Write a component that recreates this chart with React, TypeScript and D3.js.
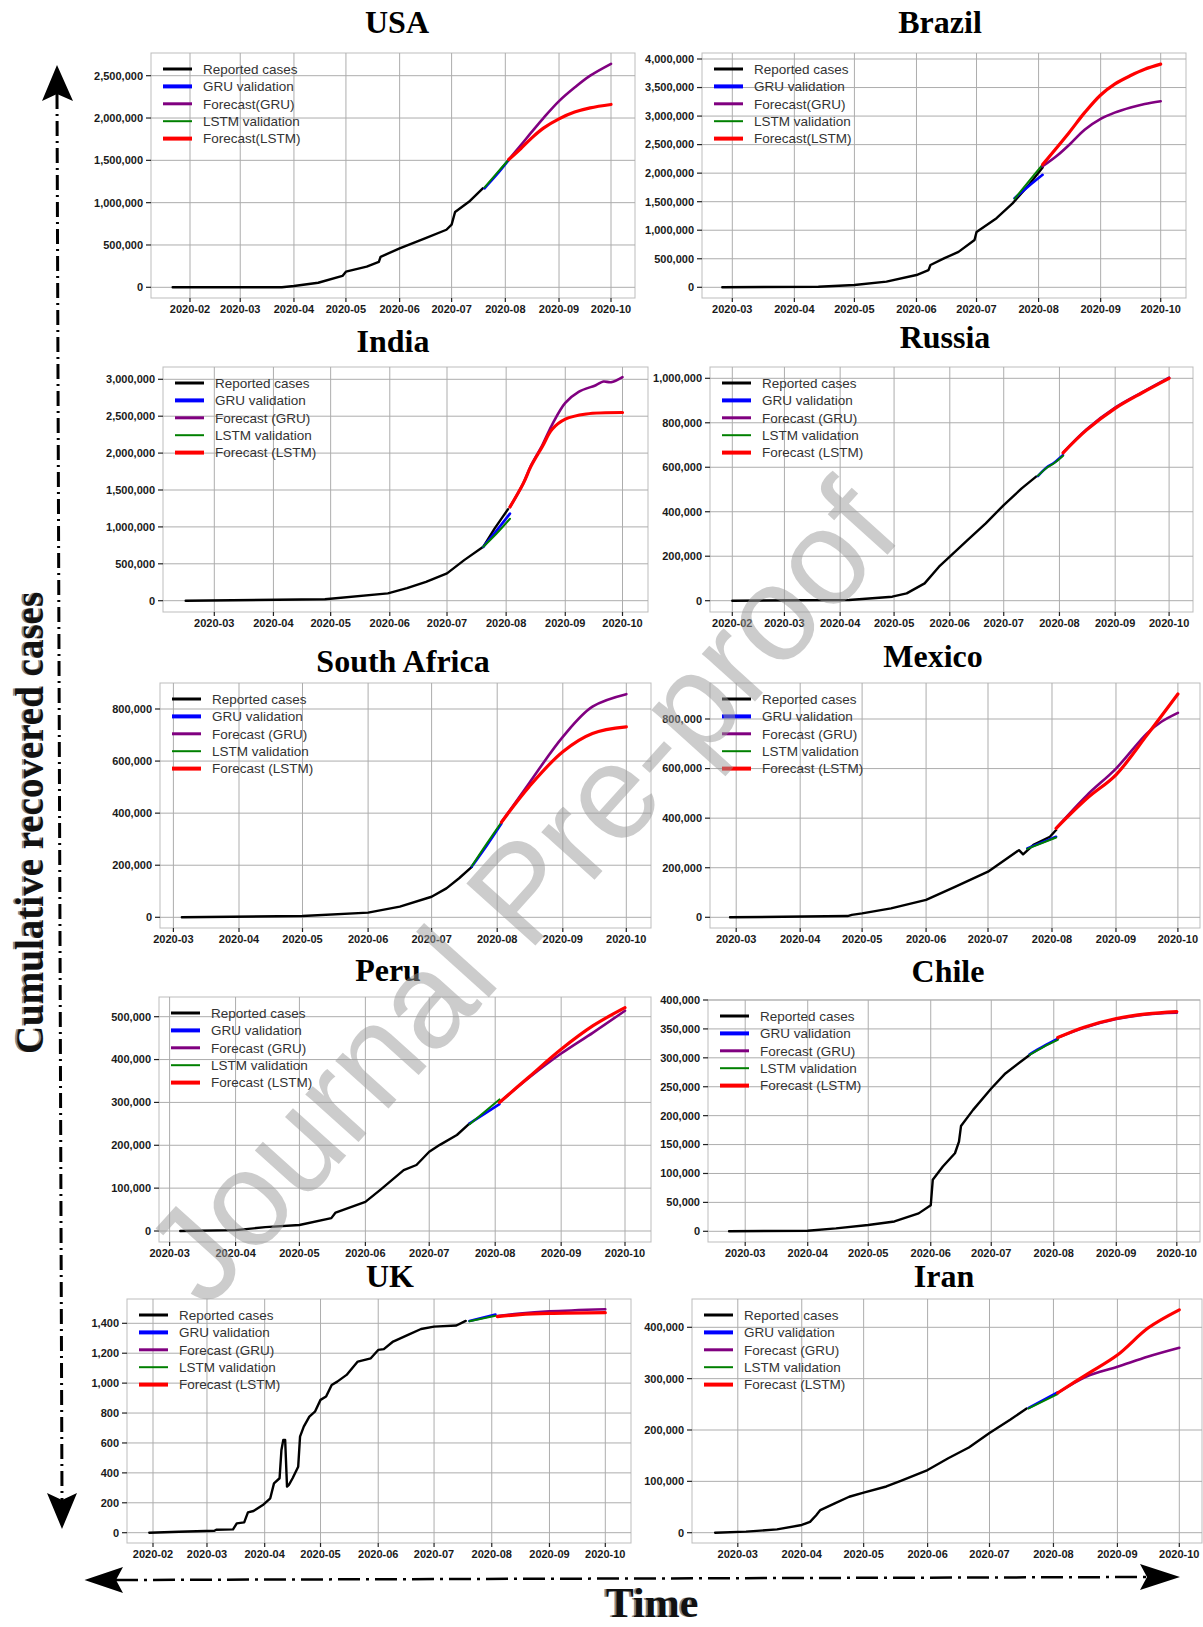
import React from "react";
import * as d3 from "d3";

type Pt = [string, number];

// x tick labels (months)
const monthsFromFeb = ["2020-02", "2020-03", "2020-04", "2020-05", "2020-06", "2020-07", "2020-08", "2020-09", "2020-10"];
const monthsFromMar = ["2020-03", "2020-04", "2020-05", "2020-06", "2020-07", "2020-08", "2020-09", "2020-10"];

// y tick values
const usaYTicks = [0, 500000, 1000000, 1500000, 2000000, 2500000];
const brazilYTicks = [0, 500000, 1000000, 1500000, 2000000, 2500000, 3000000, 3500000, 4000000];
const indiaYTicks = [0, 500000, 1000000, 1500000, 2000000, 2500000, 3000000];
const russiaYTicks = [0, 200000, 400000, 600000, 800000, 1000000];
const saYTicks = [0, 200000, 400000, 600000, 800000];
const mexicoYTicks = [0, 200000, 400000, 600000, 800000];
const peruYTicks = [0, 100000, 200000, 300000, 400000, 500000];
const chileYTicks = [0, 50000, 100000, 150000, 200000, 250000, 300000, 350000, 400000];
const ukYTicks = [0, 200, 400, 600, 800, 1000, 1200, 1400];
const iranYTicks = [0, 100000, 200000, 300000, 400000];

// legend labels
const legendCompact = ["Reported cases", "GRU validation", "Forecast(GRU)", "LSTM validation", "Forecast(LSTM)"];
const legendSpaced = ["Reported cases", "GRU validation", "Forecast (GRU)", "LSTM validation", "Forecast (LSTM)"];

// ---- USA
const usaReported: Pt[] = [["2020-01-22", 0], ["2020-03-25", 0], ["2020-04-01", 15000], ["2020-04-15", 54000], ["2020-04-29", 134000], ["2020-05-01", 185000], ["2020-05-13", 244000], ["2020-05-20", 300000], ["2020-05-21", 360000], ["2020-06-01", 460000], ["2020-06-16", 580000], ["2020-06-28", 680000], ["2020-07-01", 740000], ["2020-07-03", 890000], ["2020-07-11", 1010000], ["2020-07-19", 1170000]];
const usaGruVal: Pt[] = [["2020-07-20", 1170000], ["2020-07-27", 1330000], ["2020-08-03", 1505000]];
const usaLstmVal: Pt[] = [["2020-07-20", 1180000], ["2020-07-27", 1345000], ["2020-08-03", 1510000]];
const usaGruFc: Pt[] = [["2020-08-03", 1510000], ["2020-08-10", 1680000], ["2020-08-16", 1830000], ["2020-08-23", 2000000], ["2020-09-01", 2200000], ["2020-09-10", 2360000], ["2020-09-19", 2500000], ["2020-10-01", 2640000]];
const usaLstmFc: Pt[] = [["2020-08-03", 1510000], ["2020-08-10", 1640000], ["2020-08-16", 1760000], ["2020-08-23", 1880000], ["2020-09-01", 1990000], ["2020-09-10", 2070000], ["2020-09-19", 2120000], ["2020-10-01", 2160000]];

// ---- Brazil
const brazilReported: Pt[] = [["2020-02-25", 0], ["2020-04-13", 10000], ["2020-05-01", 40000], ["2020-05-17", 100000], ["2020-06-01", 215000], ["2020-06-07", 300000], ["2020-06-08", 390000], ["2020-06-15", 510000], ["2020-06-22", 620000], ["2020-06-30", 830000], ["2020-07-01", 970000], ["2020-07-11", 1210000], ["2020-07-19", 1470000], ["2020-07-27", 1790000], ["2020-08-03", 2100000]];
const brazilGruVal: Pt[] = [["2020-07-20", 1560000], ["2020-07-27", 1770000], ["2020-08-03", 1970000]];
const brazilLstmVal: Pt[] = [["2020-07-20", 1550000], ["2020-07-27", 1850000], ["2020-08-03", 2150000]];
const brazilGruFc: Pt[] = [["2020-08-03", 2120000], ["2020-08-10", 2300000], ["2020-08-17", 2520000], ["2020-08-24", 2760000], ["2020-09-01", 2950000], ["2020-09-08", 3060000], ["2020-09-16", 3150000], ["2020-09-23", 3210000], ["2020-10-01", 3260000]];
const brazilLstmFc: Pt[] = [["2020-08-03", 2150000], ["2020-08-16", 2700000], ["2020-08-24", 3060000], ["2020-09-01", 3370000], ["2020-09-08", 3560000], ["2020-09-16", 3710000], ["2020-09-23", 3820000], ["2020-10-01", 3910000]];

// ---- India
const indiaReported: Pt[] = [["2020-02-15", 0], ["2020-04-28", 20000], ["2020-05-31", 100000], ["2020-06-10", 170000], ["2020-06-20", 255000], ["2020-07-01", 370000], ["2020-07-10", 550000], ["2020-07-20", 730000], ["2020-07-26", 980000], ["2020-08-02", 1240000]];
const indiaGruVal: Pt[] = [["2020-07-20", 730000], ["2020-07-27", 950000], ["2020-08-03", 1180000]];
const indiaLstmVal: Pt[] = [["2020-07-20", 730000], ["2020-07-27", 910000], ["2020-08-03", 1110000]];
const indiaGruFc: Pt[] = [["2020-08-03", 1270000], ["2020-08-10", 1590000], ["2020-08-14", 1830000], ["2020-08-20", 2110000], ["2020-08-25", 2380000], ["2020-09-01", 2680000], ["2020-09-08", 2830000], ["2020-09-17", 2920000], ["2020-09-21", 2970000], ["2020-09-25", 2960000], ["2020-10-01", 3030000]];
const indiaLstmFc: Pt[] = [["2020-08-03", 1270000], ["2020-08-10", 1590000], ["2020-08-14", 1820000], ["2020-08-20", 2090000], ["2020-08-25", 2320000], ["2020-09-01", 2460000], ["2020-09-12", 2530000], ["2020-10-01", 2550000]];

// ---- Russia
const russiaReported: Pt[] = [["2020-02-01", 0], ["2020-04-06", 3000], ["2020-04-30", 18000], ["2020-05-08", 33000], ["2020-05-18", 78000], ["2020-05-26", 153000], ["2020-06-01", 198000], ["2020-06-11", 273000], ["2020-06-21", 348000], ["2020-07-01", 430000], ["2020-07-11", 505000], ["2020-07-19", 558000]];
const russiaGruVal: Pt[] = [["2020-07-20", 560000], ["2020-07-25", 600000], ["2020-07-29", 620000], ["2020-08-03", 655000]];
const russiaLstmVal: Pt[] = [["2020-07-20", 562000], ["2020-07-25", 598000], ["2020-07-29", 618000], ["2020-08-03", 652000]];
const russiaGruFc: Pt[] = [["2020-08-03", 665000], ["2020-08-16", 770000], ["2020-09-01", 868000], ["2020-09-16", 937000], ["2020-10-01", 1003000]];
const russiaLstmFc: Pt[] = [["2020-08-03", 665000], ["2020-08-16", 767000], ["2020-09-01", 865000], ["2020-09-16", 935000], ["2020-10-01", 1000000]];

// ---- South Africa
const saReported: Pt[] = [["2020-03-05", 0], ["2020-05-01", 5000], ["2020-06-01", 18000], ["2020-06-16", 41000], ["2020-07-01", 79000], ["2020-07-08", 111000], ["2020-07-14", 150000], ["2020-07-20", 194000]];
const saGruVal: Pt[] = [["2020-07-20", 195000], ["2020-07-27", 275000], ["2020-08-03", 360000]];
const saLstmVal: Pt[] = [["2020-07-20", 197000], ["2020-07-27", 282000], ["2020-08-03", 365000]];
const saGruFc: Pt[] = [["2020-08-03", 365000], ["2020-08-16", 514000], ["2020-09-01", 693000], ["2020-09-15", 809000], ["2020-10-01", 857000]];
const saLstmFc: Pt[] = [["2020-08-03", 365000], ["2020-08-16", 501000], ["2020-09-01", 636000], ["2020-09-15", 706000], ["2020-10-01", 731000]];

// ---- Mexico
const mexicoReported: Pt[] = [["2020-02-27", 0], ["2020-04-24", 5000], ["2020-04-26", 10000], ["2020-05-01", 16000], ["2020-05-15", 36000], ["2020-06-01", 70000], ["2020-06-15", 123000], ["2020-07-01", 184000], ["2020-07-16", 271000], ["2020-07-18", 254000], ["2020-07-23", 292000], ["2020-07-31", 325000], ["2020-08-03", 352000]];
const mexicoGruVal: Pt[] = [["2020-07-20", 278000], ["2020-08-03", 325000]];
const mexicoLstmVal: Pt[] = [["2020-07-20", 276000], ["2020-08-03", 322000]];
const mexicoGruFc: Pt[] = [["2020-08-03", 359000], ["2020-08-18", 493000], ["2020-09-01", 600000], ["2020-09-16", 742000], ["2020-09-23", 789000], ["2020-10-01", 825000]];
const mexicoLstmFc: Pt[] = [["2020-08-03", 359000], ["2020-08-18", 480000], ["2020-09-01", 575000], ["2020-09-16", 735000], ["2020-10-01", 901000]];

// ---- Peru
const peruReported: Pt[] = [["2020-03-06", 0], ["2020-04-01", 2000], ["2020-04-15", 9000], ["2020-05-01", 14000], ["2020-05-16", 30000], ["2020-05-18", 43000], ["2020-06-01", 68000], ["2020-06-08", 96000], ["2020-06-19", 142000], ["2020-06-25", 154000], ["2020-07-01", 185000], ["2020-07-06", 201000], ["2020-07-14", 224000], ["2020-07-20", 251000]];
const peruGruVal: Pt[] = [["2020-07-20", 251000], ["2020-08-03", 296000]];
const peruLstmVal: Pt[] = [["2020-07-20", 249000], ["2020-08-03", 307000]];
const peruGruFc: Pt[] = [["2020-08-03", 300000], ["2020-08-17", 358000], ["2020-09-01", 414000], ["2020-09-16", 463000], ["2020-10-01", 514000]];
const peruLstmFc: Pt[] = [["2020-08-03", 300000], ["2020-08-17", 360000], ["2020-09-01", 424000], ["2020-09-16", 479000], ["2020-10-01", 521000]];

// ---- Chile
const chileReported: Pt[] = [["2020-02-22", 0], ["2020-04-01", 1000], ["2020-04-15", 5000], ["2020-05-01", 11000], ["2020-05-14", 17000], ["2020-05-26", 31000], ["2020-06-01", 45000], ["2020-06-02", 89000], ["2020-06-07", 112000], ["2020-06-13", 135000], ["2020-06-15", 155000], ["2020-06-16", 182000], ["2020-06-22", 210000], ["2020-07-01", 247000], ["2020-07-08", 273000], ["2020-07-20", 305000]];
const chileGruVal: Pt[] = [["2020-07-20", 306000], ["2020-07-27", 320000], ["2020-08-03", 333000]];
const chileLstmVal: Pt[] = [["2020-07-20", 305000], ["2020-07-27", 319000], ["2020-08-03", 331000]];
const chileGruFc: Pt[] = [["2020-08-03", 335000], ["2020-08-16", 352000], ["2020-09-01", 367000], ["2020-09-16", 375000], ["2020-10-01", 378000]];
const chileLstmFc: Pt[] = [["2020-08-03", 335000], ["2020-08-16", 353000], ["2020-09-01", 368000], ["2020-09-16", 376000], ["2020-10-01", 380000]];

// ---- UK
const ukReported: Pt[] = [["2020-01-30", 0], ["2020-02-15", 6], ["2020-03-05", 13], ["2020-03-06", 20], ["2020-03-15", 22], ["2020-03-17", 62], ["2020-03-21", 69], ["2020-03-23", 136], ["2020-03-26", 145], ["2020-03-31", 185], ["2020-04-04", 230], ["2020-04-06", 330], ["2020-04-09", 364], ["2020-04-10", 553], ["2020-04-11", 620], ["2020-04-12", 620], ["2020-04-13", 308], ["2020-04-14", 320], ["2020-04-16", 364], ["2020-04-19", 441], ["2020-04-20", 642], ["2020-04-22", 709], ["2020-04-25", 776], ["2020-04-28", 809], ["2020-05-01", 888], ["2020-05-04", 910], ["2020-05-07", 988], ["2020-05-10", 1010], ["2020-05-15", 1055], ["2020-05-21", 1144], ["2020-05-28", 1166], ["2020-06-01", 1222], ["2020-06-04", 1227], ["2020-06-09", 1278], ["2020-06-17", 1322], ["2020-06-24", 1362], ["2020-07-01", 1378], ["2020-07-13", 1385], ["2020-07-18", 1416]];
const ukGruVal: Pt[] = [["2020-07-20", 1416], ["2020-08-03", 1458]];
const ukLstmVal: Pt[] = [["2020-07-20", 1414], ["2020-08-03", 1450]];
const ukGruFc: Pt[] = [["2020-08-04", 1448], ["2020-08-16", 1465], ["2020-09-01", 1480], ["2020-10-01", 1494]];
const ukLstmFc: Pt[] = [["2020-08-04", 1445], ["2020-08-16", 1458], ["2020-09-01", 1466], ["2020-10-01", 1471]];

// ---- Iran
const iranReported: Pt[] = [["2020-02-19", 0], ["2020-03-05", 2000], ["2020-03-20", 6500], ["2020-04-01", 15000], ["2020-04-05", 21000], ["2020-04-08", 34000], ["2020-04-10", 44000], ["2020-04-17", 57000], ["2020-04-24", 70000], ["2020-05-01", 78000], ["2020-05-12", 90000], ["2020-05-19", 101000], ["2020-06-01", 122000], ["2020-06-11", 145000], ["2020-06-21", 166000], ["2020-07-01", 194000], ["2020-07-11", 220000], ["2020-07-19", 242000]];
const iranGruVal: Pt[] = [["2020-07-20", 243000], ["2020-08-03", 273000]];
const iranLstmVal: Pt[] = [["2020-07-20", 242000], ["2020-08-03", 270000]];
const iranGruFc: Pt[] = [["2020-08-03", 272000], ["2020-08-17", 304000], ["2020-09-01", 323000], ["2020-09-16", 343000], ["2020-10-01", 360000]];
const iranLstmFc: Pt[] = [["2020-08-03", 272000], ["2020-08-17", 308000], ["2020-09-01", 346000], ["2020-09-16", 399000], ["2020-10-01", 434000]];

const panels = [
  { title: "USA", tx: 397, ty: 33, box: [151, 53, 635, 298], xa: ["2020-02-01", 190, "2020-10-01", 611], ya: [0, 287.3, 2500000, 75.7], months: monthsFromFeb, yTicks: usaYTicks, legend: legendCompact, series: [usaReported, usaGruVal, usaLstmVal, usaGruFc, usaLstmFc] },
  { title: "Brazil", tx: 940, ty: 33, box: [702, 53, 1186, 298], xa: ["2020-03-01", 732.3, "2020-10-01", 1160.7], ya: [0, 287.3, 4000000, 59], months: monthsFromMar, yTicks: brazilYTicks, legend: legendCompact, series: [brazilReported, brazilGruVal, brazilLstmVal, brazilGruFc, brazilLstmFc] },
  { title: "India", tx: 393, ty: 352, box: [163, 367, 648, 612], xa: ["2020-03-01", 214.3, "2020-10-01", 622.5], ya: [0, 600.7, 3000000, 379.3], months: monthsFromMar, yTicks: indiaYTicks, legend: legendSpaced, series: [indiaReported, indiaGruVal, indiaLstmVal, indiaGruFc, indiaLstmFc] },
  { title: "Russia", tx: 945, ty: 348, box: [710, 367, 1193, 612], xa: ["2020-02-01", 732.3, "2020-10-01", 1169.1], ya: [0, 600.7, 1000000, 378.3], months: monthsFromFeb, yTicks: russiaYTicks, legend: legendSpaced, series: [russiaReported, russiaGruVal, russiaLstmVal, russiaGruFc, russiaLstmFc] },
  { title: "South Africa", tx: 403, ty: 672, box: [160, 683, 651, 928], xa: ["2020-03-01", 173.4, "2020-10-01", 626.3], ya: [0, 917.3, 800000, 709], months: monthsFromMar, yTicks: saYTicks, legend: legendSpaced, series: [saReported, saGruVal, saLstmVal, saGruFc, saLstmFc] },
  { title: "Mexico", tx: 933, ty: 667, box: [710, 683, 1200, 928], xa: ["2020-03-01", 736.2, "2020-10-01", 1177.9], ya: [0, 917.3, 800000, 719], months: monthsFromMar, yTicks: mexicoYTicks, legend: legendSpaced, series: [mexicoReported, mexicoGruVal, mexicoLstmVal, mexicoGruFc, mexicoLstmFc] },
  { title: "Peru", tx: 388, ty: 981, box: [159, 997, 651, 1242], xa: ["2020-03-01", 169.6, "2020-10-01", 625], ya: [0, 1231, 500000, 1016.7], months: monthsFromMar, yTicks: peruYTicks, legend: legendSpaced, series: [peruReported, peruGruVal, peruLstmVal, peruGruFc, peruLstmFc] },
  { title: "Chile", tx: 948, ty: 982, box: [708, 1000, 1200, 1242], xa: ["2020-03-01", 745.2, "2020-10-01", 1176.8], ya: [0, 1231.3, 400000, 1000], months: monthsFromMar, yTicks: chileYTicks, legend: legendSpaced, series: [chileReported, chileGruVal, chileLstmVal, chileGruFc, chileLstmFc] },
  { title: "UK", tx: 390, ty: 1287, box: [127, 1299, 631, 1543], xa: ["2020-02-01", 153, "2020-10-01", 605.3], ya: [0, 1532.7, 1400, 1323.3], months: monthsFromFeb, yTicks: ukYTicks, legend: legendSpaced, series: [ukReported, ukGruVal, ukLstmVal, ukGruFc, ukLstmFc] },
  { title: "Iran", tx: 944, ty: 1287, box: [692, 1299, 1202, 1543], xa: ["2020-03-01", 737.8, "2020-10-01", 1179.3], ya: [0, 1532.7, 400000, 1327.3], months: monthsFromMar, yTicks: iranYTicks, legend: legendSpaced, series: [iranReported, iranGruVal, iranLstmVal, iranGruFc, iranLstmFc] },
];

// draw order: reported, GRU val, LSTM val, GRU forecast, LSTM forecast
const seriesStyle = [
  { color: "#000000", width: 2.4, smooth: false },
  { color: "#0000ff", width: 2.6, smooth: true },
  { color: "#008000", width: 2, smooth: true },
  { color: "#800080", width: 2.6, smooth: true },
  { color: "#ff0000", width: 3.2, smooth: true },
];
// legend order -> series style index
const legendOrder = [0, 1, 3, 2, 4];
const legendWidths = [3, 4, 3, 2, 4];

const parse = d3.timeParse("%Y-%m-%d");
const fmt = d3.format(",");
const sans = "'Liberation Sans', Arial, sans-serif";
const serif = "'Liberation Serif', 'Times New Roman', serif";

function Panel({ p }: { p: (typeof panels)[number] }) {
  const [l, t, r, b] = p.box;
  const x = d3
    .scaleTime()
    .domain([parse(p.xa[0] as string)!, parse(p.xa[2] as string)!])
    .range([p.xa[1] as number, p.xa[3] as number]);
  const y = d3.scaleLinear().domain([p.ya[0], p.ya[2]]).range([p.ya[1], p.ya[3]]);

  return (
    <g>
      <text x={p.tx} y={p.ty} textAnchor="middle" fontFamily={serif} fontWeight="bold" fontSize={32} fill="#000">
        {p.title}
      </text>
      <rect x={l} y={t} width={r - l} height={b - t} fill="#fff" stroke="#bdbdbd" strokeWidth={1} />
      {/* grid */}
      {p.months.map((m) => {
        const xx = x(parse(m + "-01")!);
        return <line key={"gx" + m} x1={xx} x2={xx} y1={t} y2={b} stroke="#adadad" strokeWidth={1} />;
      })}
      {p.yTicks.map((v) => (
        <line key={"gy" + v} x1={l} x2={r} y1={y(v)} y2={y(v)} stroke="#adadad" strokeWidth={1} />
      ))}
      {/* y axis ticks */}
      {p.yTicks.map((v) => (
        <g key={"ty" + v}>
          <line x1={l - 5} x2={l} y1={y(v)} y2={y(v)} stroke="#222" strokeWidth={1.2} />
          <text x={l - 8} y={y(v)} dy="0.35em" textAnchor="end" fontFamily={sans} fontWeight="bold" fontSize={11} fill="#1a1a1a">
            {fmt(v)}
          </text>
        </g>
      ))}
      {/* x axis ticks */}
      {p.months.map((m) => {
        const xx = x(parse(m + "-01")!);
        return (
          <g key={"tx" + m}>
            <line x1={xx} x2={xx} y1={b} y2={b + 4} stroke="#222" strokeWidth={1.2} />
            <text x={xx} y={b + 14.5} textAnchor="middle" fontFamily={sans} fontWeight="bold" fontSize={11} fill="#1a1a1a">
              {m}
            </text>
          </g>
        );
      })}
      {/* series */}
      {p.series.map((s, i) => {
        const st = seriesStyle[i];
        const line = d3
          .line<Pt>()
          .x((d) => x(parse(d[0])!))
          .y((d) => y(d[1]))
          .curve(st.smooth ? d3.curveCatmullRom.alpha(0.5) : d3.curveLinear);
        return (
          <path key={"s" + i} d={line(s) || ""} fill="none" stroke={st.color} strokeWidth={st.width} strokeLinejoin="round" strokeLinecap="round" />
        );
      })}
      {/* legend */}
      {p.legend.map((lab, i) => {
        const yy = t + 16 + i * 17.4;
        const st = seriesStyle[legendOrder[i]];
        return (
          <g key={"lg" + i}>
            <line x1={l + 12} x2={l + 41} y1={yy} y2={yy} stroke={st.color} strokeWidth={legendWidths[i]} />
            <text x={l + 52} y={yy} dy="0.36em" fontFamily={sans} fontSize={13.5} fill="#333">
              {lab}
            </text>
          </g>
        );
      })}
    </g>
  );
}

export default function App() {
  return (
    <svg width={1203} height={1627} style={{ position: "absolute", left: 0, top: 0, display: "block", background: "#fff" }}>
      <rect width={1203} height={1627} fill="#fff" />
      {panels.map((p) => (
        <Panel key={p.title} p={p} />
      ))}

      {/* vertical axis arrow */}
      <line x1={57} y1={94} x2={62} y2={1500} stroke="#000" strokeWidth={3} strokeDasharray="15 5 2 5" />
      <path d="M57,65 L73,101 L57,94 L42,101 Z" fill="#000" />
      <path d="M62,1529 L77,1493 L62,1500 L47,1493 Z" fill="#000" />

      {/* horizontal axis arrow */}
      <line x1={116} y1={1580} x2={1147} y2={1577} stroke="#000" strokeWidth={2.5} strokeDasharray="22 6 3 6" />
      <path d="M84.5,1580 L123,1567 L116,1580 L123,1593 Z" fill="#000" />
      <path d="M1180,1577 L1140,1564 L1147,1577 L1140,1590 Z" fill="#000" />

      {/* axis titles */}
      <g fontFamily={serif} fontWeight="bold">
        <text transform="translate(41,823) rotate(-90)" textAnchor="middle" fontSize={39} fill="#8a8a8a">
          Cumulative recovered cases
        </text>
        <text transform="translate(43,823) rotate(-90)" textAnchor="middle" fontSize={39} fill="#111">
          Cumulative recovered cases
        </text>
        <text x={650} y={1617} textAnchor="middle" fontSize={42} fill="#8a8a8a">
          Time
        </text>
        <text x={652} y={1617} textAnchor="middle" fontSize={42} fill="#111">
          Time
        </text>
      </g>

      {/* watermark */}
      <text
        transform="translate(521,892) rotate(-48)"
        textAnchor="middle"
        dominantBaseline="central"
        fontFamily={sans}
        fontSize={135}
        fill="#9a9a9a"
        opacity={0.5}
      >
        Journal Pre-proof
      </text>
    </svg>
  );
}
